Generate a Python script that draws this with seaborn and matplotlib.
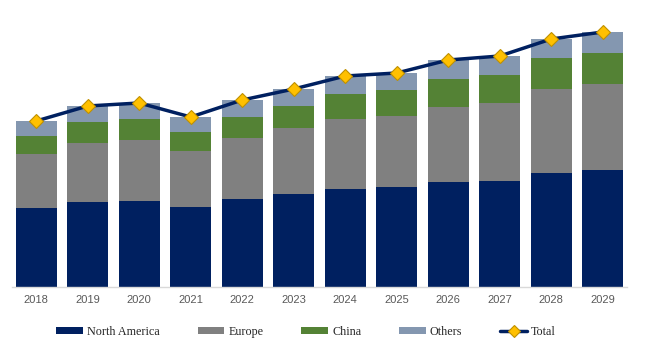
import matplotlib.pyplot as plt
import numpy as np
import pandas as pd
import seaborn as sns
from matplotlib.lines import Line2D
from matplotlib.patches import Patch

years = ["2018", "2019", "2020", "2021", "2022", "2023",
         "2024", "2025", "2026", "2027", "2028", "2029"]
north_america = [79, 85, 86, 80, 88, 93, 98, 100, 105, 106, 114, 117]
europe = [54, 59, 61, 56, 61, 66, 70, 71, 75, 78, 84, 86]
china = [18, 21, 21, 19, 21, 22, 25, 26, 28, 28, 31, 31]
others = [15, 16, 16, 15, 17, 17, 18, 17, 19, 19, 19, 21]

colors = {
    "North America": "#002060",
    "Europe": "#808080",
    "China": "#548235",
    "Others": "#8497B0",
}

df = pd.DataFrame({
    "year": years,
    "North America": north_america,
    "Europe": europe,
    "China": china,
    "Others": others,
})
segments = ["North America", "Europe", "China", "Others"]
cum = df[segments].cumsum(axis=1)
df["Total"] = cum["Others"]

sns.set_style("white")
fig = plt.figure(figsize=(6.5, 3.62), dpi=100)
ax = fig.add_axes([12 / 650, 75 / 362, 615 / 650, 277 / 362])

# stacked bars: draw cumulative heights from the top segment down
for seg in reversed(segments):
    sns.barplot(x=df["year"], y=cum[seg], color=colors[seg], saturation=1,
                width=0.8, linewidth=0, ax=ax)

sns.pointplot(x=df["year"], y=df["Total"], color="#002060", errorbar=None,
              marker="D", markersize=7, linewidth=2.5, ax=ax)
tot_line = ax.lines[-1]
tot_line.set_markerfacecolor("#FFC000")
tot_line.set_markeredgecolor("#BF9000")
tot_line.set_markeredgewidth(0.8)
tot_line.set_zorder(5)

ax.set_ylim(0, 277)
ax.set_xlim(-0.47, 11.47)
ax.set_xlabel("")
ax.set_ylabel("")
ax.set_yticks([])
ax.tick_params(axis="x", length=0, pad=6, labelsize=8, labelcolor="#595959")
for lab in ax.get_xticklabels():
    lab.set_family("Liberation Sans")
for s in ["top", "right", "left"]:
    ax.spines[s].set_visible(False)
ax.spines["bottom"].set_color("#D9D9D9")
ax.spines["bottom"].set_linewidth(1)

handles = [Patch(facecolor=colors[s], edgecolor="none", label=s) for s in segments]
handles.append(Line2D([0], [0], color="#002060", linewidth=2.5, marker="D",
                      markersize=6, markerfacecolor="#FFC000",
                      markeredgecolor="#BF9000", markeredgewidth=0.8, label="Total"))
fig.legend(handles=handles, loc="center", bbox_to_anchor=(0.471, 0.083), ncol=5,
           frameon=False, handlelength=2.2, handleheight=0.58, handletextpad=0.33,
           columnspacing=3.15,
           prop={"family": "Liberation Serif", "size": 8.7}, labelcolor="#262626")

fig.savefig("out.png", dpi=100)
plt.close(fig)
